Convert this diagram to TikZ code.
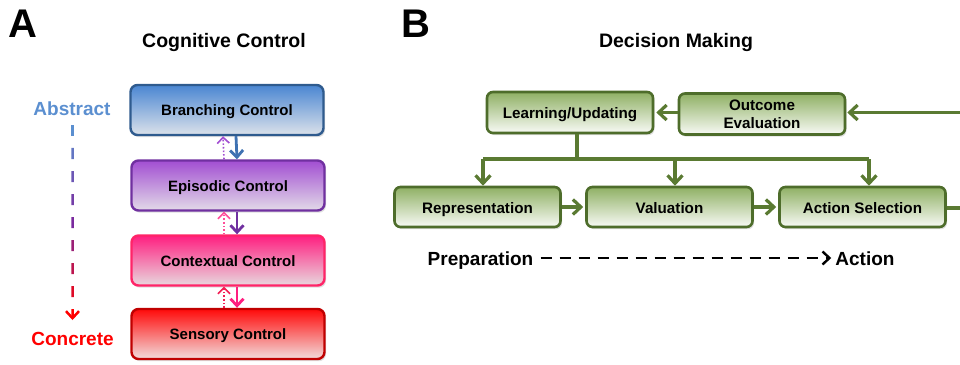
\documentclass[tikz,border=0pt]{standalone}
\usepackage{fontspec}
\setmainfont{Liberation Sans}
\usetikzlibrary{arrows.meta,shadows,calc}

% level colours (panel A)
\definecolor{brTop}{HTML}{4A86D2}
\definecolor{brBot}{HTML}{DCE2EA}
\definecolor{brLine}{HTML}{2F5B8E}
\definecolor{epTop}{HTML}{A24ED2}
\definecolor{epBot}{HTML}{E2DAE8}
\definecolor{epLine}{HTML}{7030A0}
\definecolor{coTop}{HTML}{FF1F80}
\definecolor{coBot}{HTML}{E8D8DE}
\definecolor{coLine}{HTML}{FF2468}
\definecolor{seTop}{HTML}{FF0A0A}
\definecolor{seBot}{HTML}{F2DCDC}
\definecolor{seLine}{HTML}{C00000}
\definecolor{abBlue}{HTML}{5B8FD0}
\definecolor{abPurple}{HTML}{7A2A9E}
\definecolor{abRed}{HTML}{FF0000}
% decision colours (panel B)
\definecolor{gTop}{HTML}{8FB064}
\definecolor{gLine}{HTML}{4E6D2B}
\definecolor{gArrow}{HTML}{5A7A32}

\colorlet{dA}{abBlue}
\colorlet{dB}{abBlue!75!abPurple}
\colorlet{dC}{abBlue!45!abPurple}
\colorlet{dD}{abBlue!20!abPurple}
\colorlet{dE}{abPurple}
\colorlet{dF}{abPurple!75!abRed}
\colorlet{dG}{abPurple!50!abRed}
\colorlet{dH}{abPurple!25!abRed}
\colorlet{dI}{abRed}

\tikzset{
  panel/.style={font=\fontsize{40}{40}\selectfont\bfseries, anchor=base, inner sep=0pt},
  title/.style={font=\fontsize{19.5}{21}\selectfont\bfseries, anchor=base, inner sep=0pt},
  axislabel/.style={font=\fontsize{19}{20}\selectfont\bfseries, anchor=base, inner sep=0pt},
  levelbox/.style={rounded corners=7pt, line width=2.4pt,
    minimum width=193pt, minimum height=50pt,
    text height=11.8pt, text depth=0pt,
    font=\fontsize{15}{17}\selectfont\bfseries,
    drop shadow={shadow xshift=1.5pt, shadow yshift=-2.2pt, opacity=0.25}},
  stagebox/.style={rounded corners=6pt, line width=2.6pt, draw=gLine,
    top color=gTop, bottom color=gTop!6!white,
    minimum width=166pt, minimum height=41pt,
    font=\fontsize{15.2}{18}\selectfont\bfseries, align=center,
    drop shadow={shadow xshift=1.5pt, shadow yshift=-2.2pt, opacity=0.25}},
  oneline/.style={text height=12.6pt, text depth=0pt},
  downarrow/.style={line width=2.8pt, -{Straight Barb[length=7pt,width=13pt]}},
  uparrow/.style={line width=1.6pt, dotted, -{Straight Barb[length=6pt,width=12pt]}},
  gline/.style={line width=3.2pt, draw=gArrow},
  garrow/.style={gline, -{Straight Barb[length=8pt,width=15pt]}},
}

\begin{document}
\begin{tikzpicture}[x=1pt, y=-1pt]
\useasboundingbox (0,0) rectangle (960,364);

% ---------------- panel A: cognitive control hierarchy ----------------
\node[panel] (labA) at (23,37) {A};
\node[title] (titleA) at (224,47) {Cognitive Control};

\node[levelbox, draw=brLine, top color=brTop, bottom color=brBot] (branch) at (227,110) {Branching Control};
\node[levelbox, draw=epLine, top color=epTop, bottom color=epBot] (episodic) at (228,185.5) {Episodic Control};
\node[levelbox, draw=coLine, top color=coTop, bottom color=coBot] (context) at (228,260.5) {Contextual Control};
\node[levelbox, draw=seLine, top color=seTop, bottom color=seBot] (sensory) at (228,334) {Sensory Control};

% top-down influence (solid) and bottom-up feedback (dotted)
\draw[downarrow, draw=brTop!85!black] ([xshift=9pt]branch.south) -- ([xshift=9pt]episodic.north);
\draw[uparrow, draw=epTop] ([xshift=-4pt]episodic.north) -- ([xshift=-4pt]branch.south);
\draw[downarrow, draw=epLine] ([xshift=9pt]episodic.south) -- ([xshift=9pt]context.north);
\draw[uparrow, draw=coTop!80!white] ([xshift=-4pt]context.north) -- ([xshift=-4pt]episodic.south);
\draw[downarrow, draw=coTop] ([xshift=9pt]context.south) -- ([xshift=9pt]sensory.north);
\draw[uparrow, draw=coLine!80!seLine] ([xshift=-4pt]sensory.north) -- ([xshift=-4pt]context.south);

% abstract -> concrete axis with a colour ramp
\node[axislabel, text=abBlue] (abstract) at (72,115) {Abstract};
\node[axislabel, text=abRed] (concrete) at (72.5,345) {Concrete};
\coordinate (axTop) at (72.5,125);
\coordinate (axBot) at (72.5,320);
\foreach \i/\c in {0/dA,1/dB,2/dC,3/dD,4/dE,5/dF,6/dG,7/dH}{
  \pgfmathsetmacro{\ta}{\i*23/195}
  \pgfmathsetmacro{\tb}{(\i*23+11)/195}
  \draw[line width=2.5pt, draw=\c] ($(axTop)!\ta!(axBot)$) -- ($(axTop)!\tb!(axBot)$);
}
\draw[line width=2.5pt, draw=dI, -{Straight Barb[length=7pt,width=13pt]}]
  ($(axTop)!184/195!(axBot)$) -- (axBot);

% ---------------- panel B: decision making stages ----------------
\node[panel] (labB) at (416,37) {B};
\node[title] (titleB) at (676,47) {Decision Making};

\node[stagebox, oneline] (learn) at (570,112.5) {Learning/Updating};
\node[stagebox, yshift=-1.5pt] (outcome) at (762,112.5) {Outcome\\Evaluation};
\node[stagebox, oneline, minimum height=40pt] (rep) at (477.5,207) {Representation};
\node[stagebox, oneline, minimum height=40pt] (val) at (669.5,207) {Valuation};
\node[stagebox, oneline, minimum height=40pt] (act) at (862.5,207) {Action Selection};

\coordinate (split) at (577,159);
\coordinate (edgeTop) at (960,112.5);
\coordinate (edgeBot) at (960,208);

% feedback loop
\draw[gline] (act.east |- edgeBot) -- (edgeBot);
\draw[garrow, shorten >=1pt] (edgeTop) -- (outcome.east |- edgeTop);
\draw[garrow, shorten >=2pt] (outcome.west |- learn.east) -- (learn.east);

% learning updates every stage
\draw[gline] ([xshift=7pt]learn.south) -- (split);
\draw[gline] ([xshift=5.5pt]rep.north |- split) -- ([xshift=6.5pt]act.north |- split);
\draw[garrow] ([xshift=5.5pt]rep.north |- split) -- ([xshift=5.5pt]rep.north);
\draw[garrow] ([xshift=5.5pt]val.north |- split) -- ([xshift=5.5pt]val.north);
\draw[garrow] ([xshift=6.5pt]act.north |- split) -- ([xshift=6.5pt]act.north);

% forward flow
\draw[garrow, shorten >=2pt] (rep.east) -- (val.west);
\draw[garrow, shorten >=2pt] (val.east) -- (act.west);

% preparation -> action axis
\node[axislabel] (prep) at (480.5,265) {Preparation};
\node[axislabel] (action) at (865,265) {Action};
\draw[line width=2.4pt, dash pattern=on 11pt off 8pt, -{Straight Barb[length=7pt,width=13pt]}]
  ([xshift=7pt,yshift=7pt]prep.base east) -- ([xshift=-4pt,yshift=7pt]action.base west);
\end{tikzpicture}
\end{document}
